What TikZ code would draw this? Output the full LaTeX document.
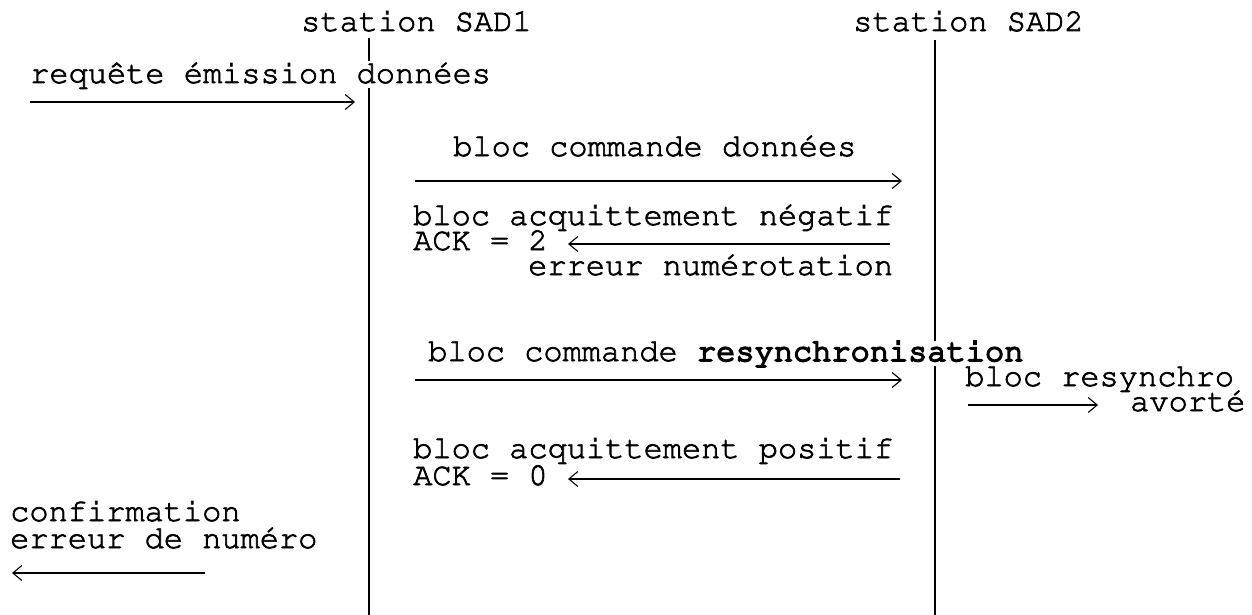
\documentclass[tikz,border=0pt]{standalone}
\usepackage[T1]{fontenc}
\usepackage{courier}
\renewcommand\familydefault{\ttdefault}
\usetikzlibrary{arrows.meta}
\newcommand\gras[1]{\special{pdf:literal direct 1.7 w}#1}
\tikzset{
  txt/.style={anchor=base west,inner sep=0pt,
    font=\fontsize{32}{32}\selectfont\special{pdf:literal direct 2 Tr 0.7 w}},
  msg/.style={line width=1.1pt,-{Straight Barb[length=9pt,width=15pt]}},
  vie/.style={line width=1.8pt}
}

\begin{document}
\begin{tikzpicture}[x=1pt,y=-1pt]
  \useasboundingbox (0,0) rectangle (1252,615);

  \foreach \n\x\t in {sad1/369/38, sad2/935/40}{
    \coordinate (\n-haut) at (\x,\t);
    \coordinate (\n-bas) at (\x,615);
    \draw[vie] (\n-haut) -- (\n-bas);
  }
  \node[txt] (titre1) at (301,31) {station SAD1};
  \node[txt] (titre2) at (853,31) {station SAD2};

  \node[txt,fill=white] (requete) at (30,83) {requ\^ete \'emission donn\'ees};
  \coordinate (req-de) at (30,102);
  \coordinate (req-a) at (355,102);
  \draw[msg] (req-de) -- (req-a);

  \node[txt] (cmd) at (453,156) {bloc commande donn\'ees};
  \coordinate (cmd-de) at (415,181);
  \coordinate (cmd-a) at (902,181);
  \draw[msg] (cmd-de) -- (cmd-a);

  \node[txt] (neg) at (413,225) {bloc acquittement n\'egatif};
  \node[txt] (ack2) at (413,250) {ACK = 2};
  \coordinate (neg-de) at (890,244);
  \coordinate (neg-a) at (568,244);
  \draw[msg] (neg-de) -- (neg-a);
  \node[txt] (errnum) at (528,275) {erreur num\'erotation};

  \node[txt,fill=white] (resync) at (428,361) {bloc commande \gras{resynchronisation}};
  \coordinate (res-de) at (415,380);
  \coordinate (res-a) at (902,380);
  \draw[msg] (res-de) -- (res-a);

  \node[txt] (avort1) at (965,386) {bloc resynchro};
  \coordinate (avo-de) at (968,405);
  \coordinate (avo-a) at (1098,405);
  \draw[msg] (avo-de) -- (avo-a);
  \node[txt] (avort2) at (1130,411) {avort\'e};

  \node[txt] (pos) at (413,458) {bloc acquittement positif};
  \node[txt] (ack0) at (413,485) {ACK = 0};
  \coordinate (pos-de) at (900,479);
  \coordinate (pos-a) at (568,479);
  \draw[msg] (pos-de) -- (pos-a);

  \node[txt] (conf1) at (10,521) {confirmation};
  \node[txt] (conf2) at (10,548) {erreur de num\'ero};
  \coordinate (conf-de) at (205,573);
  \coordinate (conf-a) at (12,573);
  \draw[msg] (conf-de) -- (conf-a);
\end{tikzpicture}
\end{document}
